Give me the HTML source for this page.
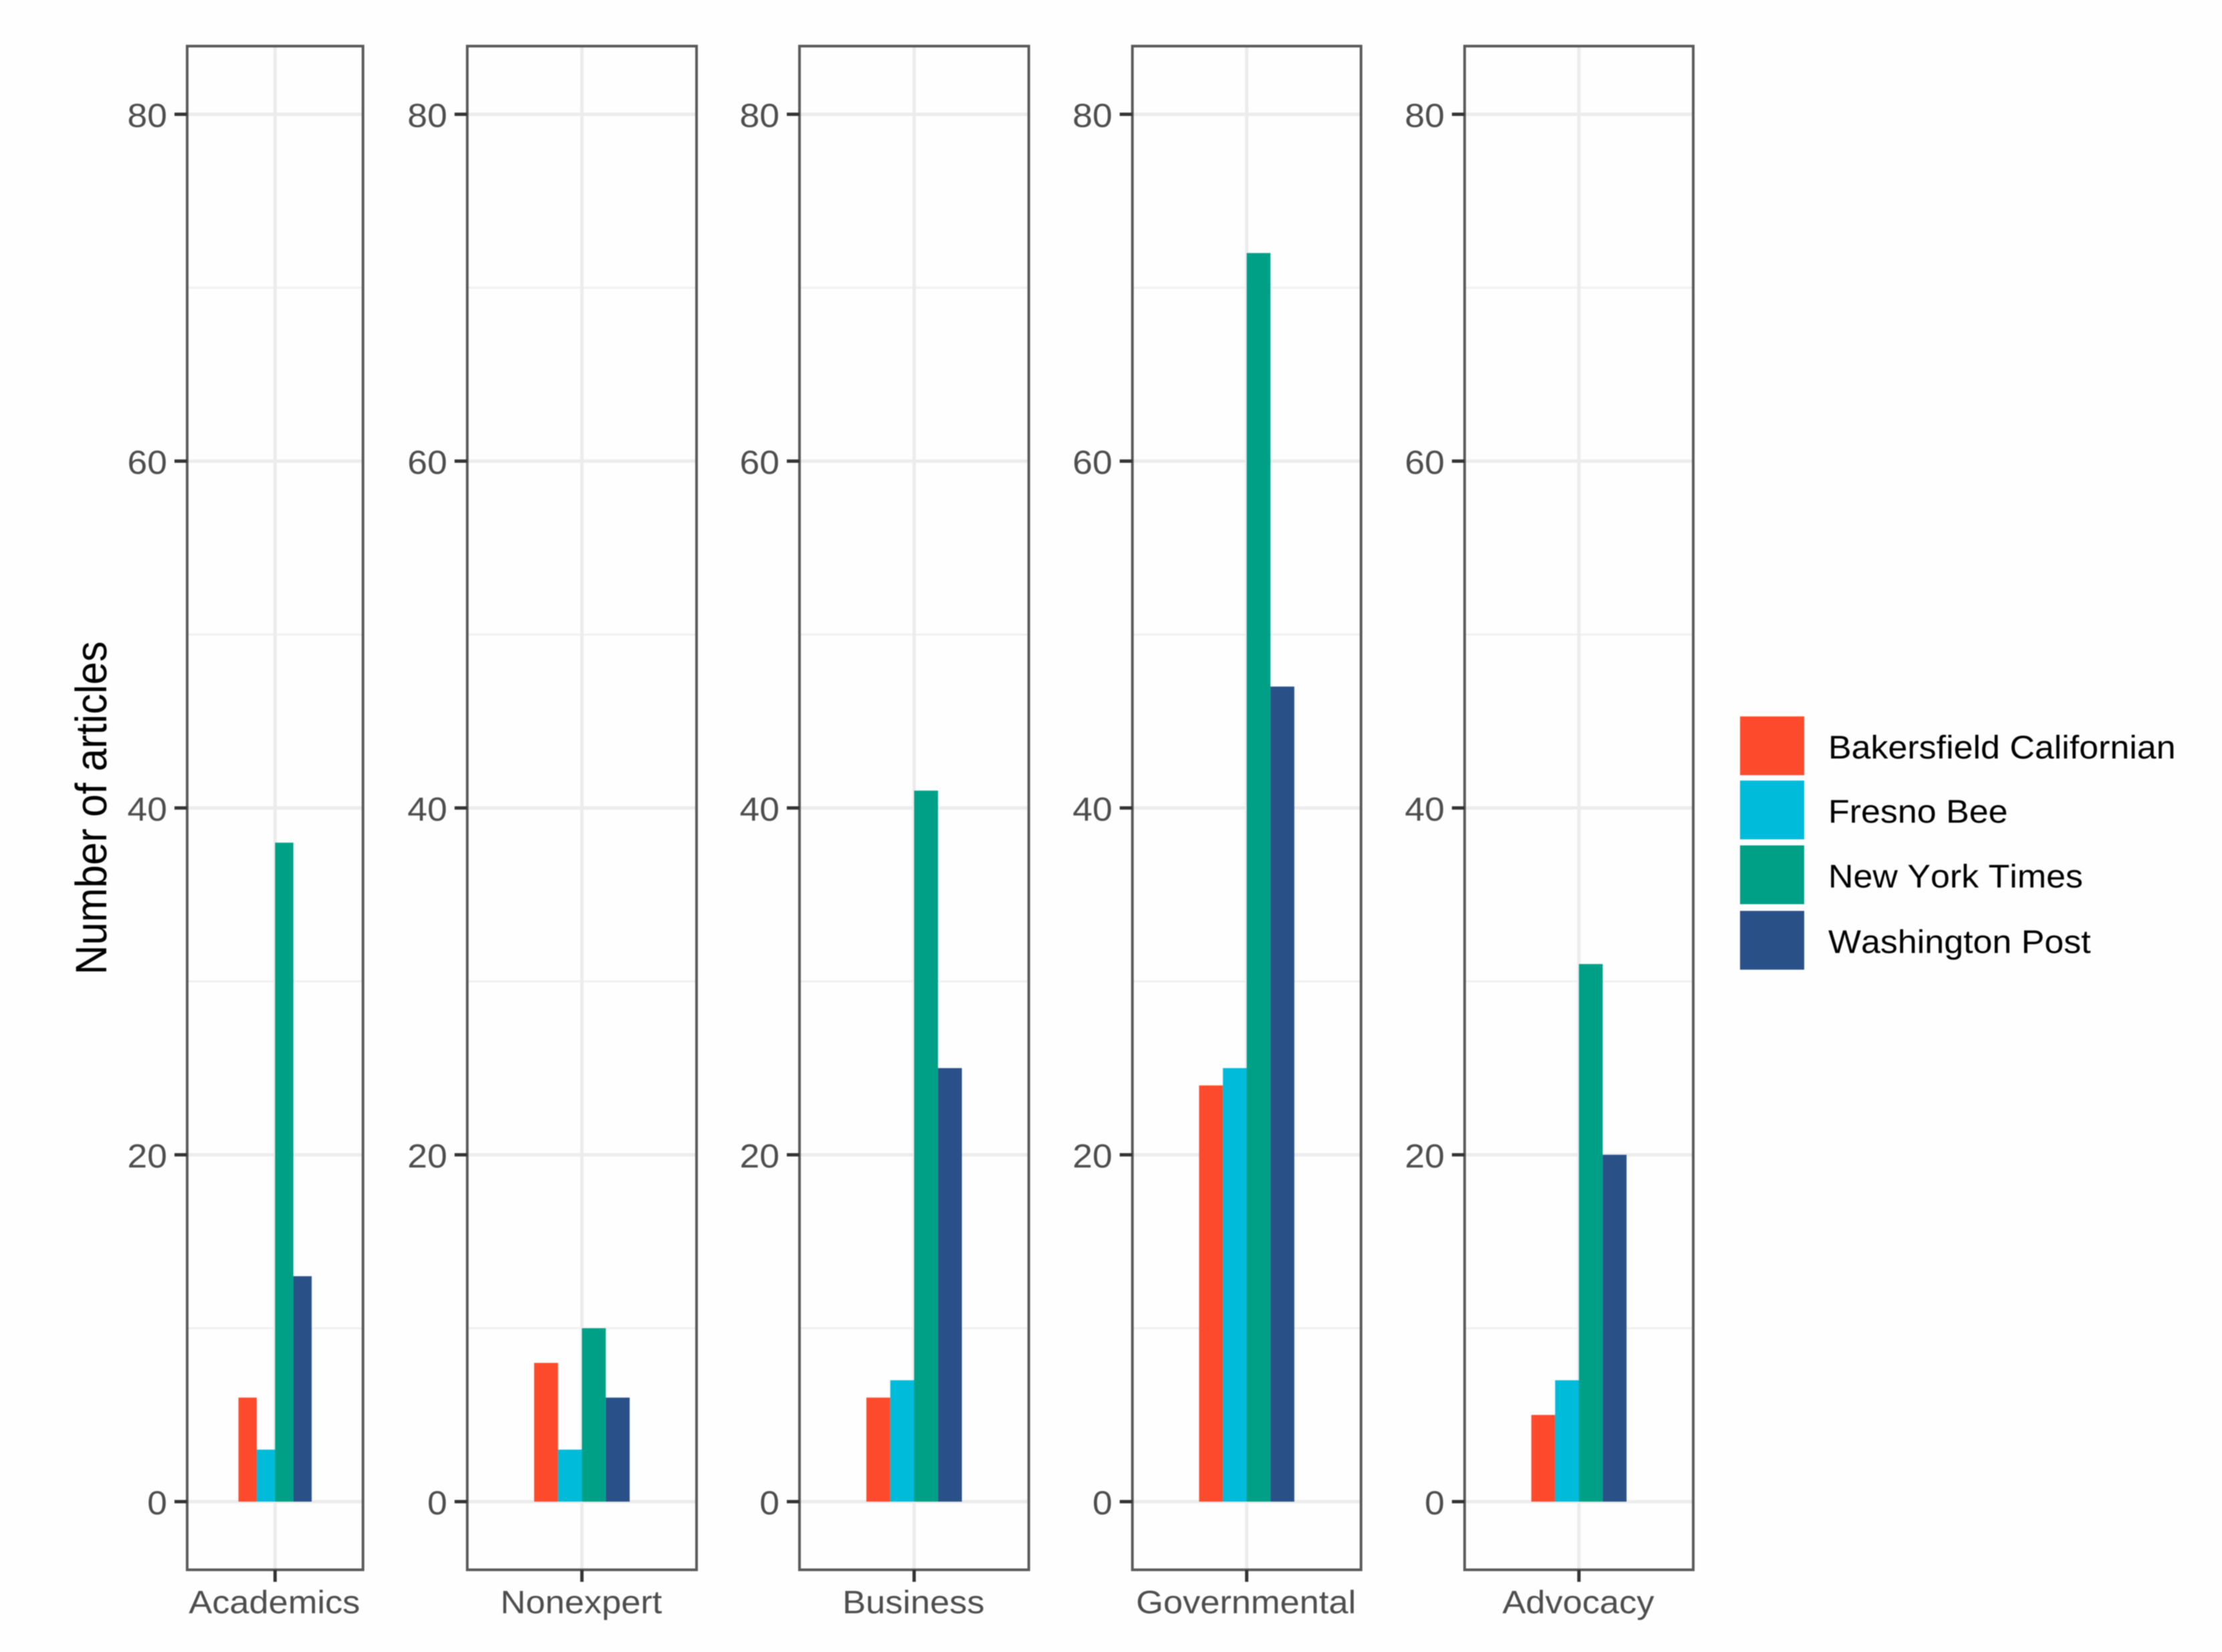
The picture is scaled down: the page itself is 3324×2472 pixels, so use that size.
<!DOCTYPE html>
<html lang="en">
<head>
<meta charset="utf-8">
<title>Number of articles by source type and newspaper</title>
<style>
  html, body { margin: 0; padding: 0; background: #fefefe; }
  svg { display: block; filter: blur(0.9px); }
  text { font-family: "Liberation Sans", sans-serif; font-kerning: none; text-rendering: geometricPrecision; }
</style>
</head>
<body>
<svg id="chart" xmlns="http://www.w3.org/2000/svg" width="3324" height="2472" viewBox="0 0 3324 2472">
  <rect x="0" y="0" width="3324" height="2472" fill="#fefefe"></rect>
  <text transform="translate(159,1209) rotate(-90) scale(1,1.07)" font-size="61.5" fill="#000" text-anchor="middle">Number of articles</text>
</svg>
<script>
// Data
const categories = ['Academics', 'Nonexpert', 'Business', 'Governmental', 'Advocacy'];
const seriesNames = ['Bakersfield Californian', 'Fresno Bee', 'New York Times', 'Washington Post'];
const bakersfieldValues = [6, 8, 6, 24, 5];
const fresnoValues = [3, 3, 7, 25, 7];
const nytValues = [38, 10, 41, 72, 31];
const wapoValues = [13, 6, 25, 47, 20];
const majorTicks = [0, 20, 40, 60, 80];
const minorTicks = [10, 30, 50, 70];

// Layout (kept apart from the data)
const seriesColors = ['#fd4a2c', '#00bbd9', '#00a087', '#2a5088'];
const panelEdges = [[280, 543], [699, 1042], [1196, 1539], [1694, 2036], [2191, 2533]];
const panelTop = 69, panelBottom = 2349, zeroY = 2247, unitsPerPx = 25.95;

const svg = document.getElementById('chart');
const NS = 'http://www.w3.org/2000/svg';
const allSeries = [bakersfieldValues, fresnoValues, nytValues, wapoValues];

// Axis functions
function yScale(v) { return zeroY - v * unitsPerPx; }
function xScale(panelIndex, x) {
  const [l, r] = panelEdges[panelIndex];
  // discrete axis: x = 1 is the category, expanded 0.6 each side
  return l + (x - 0.4) / 1.2 * (r - l);
}
function make(tag, attrs, parent) {
  const el = document.createElementNS(NS, tag);
  for (const k in attrs) el.setAttribute(k, attrs[k]);
  parent.appendChild(el);
  return el;
}

categories.forEach((cat, p) => {
  const g = make('g', {}, svg);
  
  
  const [l, r] = panelEdges[p];
  const cx = xScale(p, 1);

  minorTicks.forEach(t => {
    const line = make('line', { x1: l, x2: r, y1: yScale(t), y2: yScale(t), stroke: '#f0f0f0', 'stroke-width': 3 }, g);
    
    
  });
  majorTicks.forEach(t => {
    const line = make('line', { x1: l, x2: r, y1: yScale(t), y2: yScale(t), stroke: '#ececec', 'stroke-width': 5 }, g);
    
    
  });
  const vGrid = make('line', { x1: cx, x2: cx, y1: panelTop, y2: panelBottom, stroke: '#ececec', 'stroke-width': 5 }, g);
  
  

  allSeries.forEach((values, s) => {
    const x0 = xScale(p, 0.75 + s * 0.125);
    const x1 = xScale(p, 0.75 + (s + 1) * 0.125);
    const v = values[p];
    const bar = make('rect', { x: x0, y: yScale(v), width: x1 - x0, height: yScale(0) - yScale(v), fill: seriesColors[s] }, g);
    
    
  });

  const border = make('rect', { x: l, y: panelTop, width: r - l, height: panelBottom - panelTop, fill: 'none', stroke: '#5a5a5a', 'stroke-width': 4 }, g);
  
  

  majorTicks.forEach(t => {
    const tick = make('line', { x1: l - 19, x2: l, y1: yScale(t), y2: yScale(t), stroke: '#333', 'stroke-width': 5 }, g);
    
    
    const label = make('text', { transform: 'translate(' + (l - 30) + ',' + (yScale(t) + 19) + ') scale(1.07,1)', 'font-size': 50, fill: '#4d4d4d', 'text-anchor': 'end' }, g);
    label.textContent = String(t);
    
    
  });

  const xTick = make('line', { x1: cx, x2: cx, y1: panelBottom, y2: panelBottom + 18, stroke: '#333', 'stroke-width': 5 }, g);
  
  
  const xLabel = make('text', { transform: 'translate(' + (cx - 1) + ',2414) scale(1.08,1)', 'font-size': 48.5, fill: '#4d4d4d', 'text-anchor': 'middle' }, g);
  xLabel.textContent = cat;
  
  
});

// Legend
const legendSwatchTops = [1072, 1168, 1265, 1363];
const legend = make('g', {}, svg);


seriesNames.forEach((name, i) => {
  const entry = make('g', {}, legend);
  
  
  const sw = make('rect', { x: 2603, y: legendSwatchTops[i], width: 96, height: 88, fill: seriesColors[i] }, entry);
  
  
  const t = make('text', { transform: 'translate(2735,' + (legendSwatchTops[i] + 63) + ') scale(1.06,1)', 'font-size': 49, fill: '#000' }, entry);
  t.textContent = name;
  
  
});
</script>
</body>
</html>
